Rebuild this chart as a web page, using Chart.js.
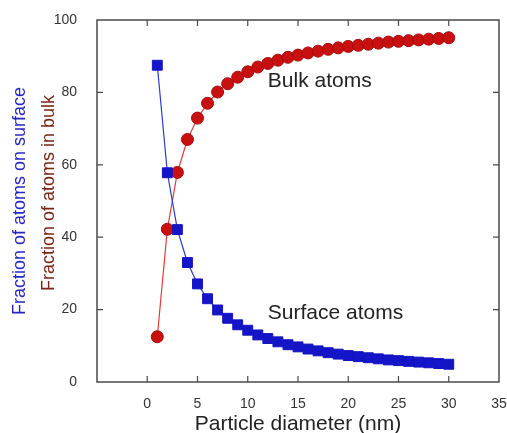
<!DOCTYPE html>
<html>
<head>
<meta charset="utf-8">
<script src="https://cdn.jsdelivr.net/npm/chart.js@4/dist/chart.umd.min.js"></script>
<style>
  html, body { margin: 0; padding: 0; background: #fff; }
  #wrap { width: 507px; height: 433px; }
</style>
</head>
<body>
<div id="wrap"><canvas id="atoms-chart" width="507" height="433"></canvas></div>
<script>
// particle diameter in nm
var diameters = [1, 2, 3, 4, 5, 6, 7, 8, 9, 10, 11, 12, 13, 14, 15,
                 16, 17, 18, 19, 20, 21, 22, 23, 24, 25, 26, 27, 28, 29, 30];
// percent of atoms sitting on the surface
var surfaceFraction = [87.5, 57.8, 42.1, 33.0, 27.1, 23.0, 19.9, 17.6, 15.8, 14.3,
                       13.0, 12.0, 11.1, 10.3, 9.7, 9.1, 8.6, 8.1, 7.7, 7.3,
                       7.0, 6.7, 6.4, 6.1, 5.9, 5.7, 5.5, 5.3, 5.1, 4.9];
// percent of atoms in the bulk
var bulkFraction = [12.5, 42.2, 57.9, 67.0, 72.9, 77.0, 80.1, 82.4, 84.2, 85.7,
                    87.0, 88.0, 88.9, 89.7, 90.3, 90.9, 91.4, 91.9, 92.3, 92.7,
                    93.0, 93.3, 93.6, 93.9, 94.1, 94.3, 94.5, 94.7, 94.9, 95.1];

var xRange = [-5, 35];
var yRange = [0, 100];
var labels = [
  { text: "Bulk atoms", x: 12, y: 83 },
  { text: "Surface atoms", x: 12, y: 19 }
];

Chart.defaults.font.family = '"Liberation Sans", Arial, Helvetica, sans-serif';

function toPoints(xs, ys) {
  return xs.map(function (x, i) { return { x: x, y: ys[i] }; });
}

// box frame with inward tick marks, plus the titles and curve labels
var framePlugin = {
  id: 'frame',
  beforeDatasetsDraw: function (chart) {
    var ctx = chart.ctx, a = chart.chartArea;
    var xs = chart.scales.x, ys = chart.scales.y;
    ctx.save();
    ctx.strokeStyle = '#4a4a4a';
    ctx.lineWidth = 1.5;
    ctx.strokeRect(a.left, a.top, a.right - a.left, a.bottom - a.top);
    ctx.lineWidth = 1.2;
    ctx.beginPath();
    xs.ticks.forEach(function (t) {
      if (t.value <= xs.min || t.value >= xs.max) return;
      var px = xs.getPixelForValue(t.value);
      ctx.moveTo(px, a.bottom); ctx.lineTo(px, a.bottom - 6);
      ctx.moveTo(px, a.top); ctx.lineTo(px, a.top + 6);
    });
    ys.ticks.forEach(function (t) {
      if (t.value <= ys.min || t.value >= ys.max) return;
      var py = ys.getPixelForValue(t.value);
      ctx.moveTo(a.left, py); ctx.lineTo(a.left + 6, py);
      ctx.moveTo(a.right, py); ctx.lineTo(a.right - 6, py);
    });
    ctx.stroke();
    ctx.restore();
  },
  afterDraw: function (chart) {
    var ctx = chart.ctx, a = chart.chartArea;
    var xs = chart.scales.x, ys = chart.scales.y;
    var midY = (a.top + a.bottom) / 2;
    ctx.save();
    ctx.textBaseline = 'middle';

    ctx.fillStyle = '#222';
    ctx.font = '21px "Liberation Sans", Arial, sans-serif';
    ctx.textAlign = 'left';
    labels.forEach(function (l) {
      ctx.fillText(l.text, xs.getPixelForValue(l.x), ys.getPixelForValue(l.y));
    });

    ctx.textAlign = 'center';
    ctx.fillStyle = '#222';
    ctx.fillText('Particle diameter (nm)', (a.left + a.right) / 2, 424);

    ctx.font = '18px "Liberation Sans", Arial, sans-serif';
    ctx.translate(20, midY);
    ctx.rotate(-Math.PI / 2);
    ctx.fillStyle = '#2626c4';
    ctx.fillText('Fraction of atoms on surface', 0, 0);
    ctx.fillStyle = '#7a2414';
    ctx.fillText('Fraction of atoms in bulk', 8, 29);
    ctx.restore();
  }
};

new Chart(document.getElementById('atoms-chart'), {
  type: 'line',
  data: {
    datasets: [{
      label: 'Surface atoms',
      data: toPoints(diameters, surfaceFraction),
      borderColor: '#2a3cd0',
      borderWidth: 1.2,
      backgroundColor: '#1414c8',
      pointBorderColor: '#1414c0',
      pointStyle: 'rect',
      pointRadius: 7,
      pointBorderWidth: 1,
      tension: 0
    }, {
      label: 'Bulk atoms',
      data: toPoints(diameters, bulkFraction),
      borderColor: '#e03a3a',
      borderWidth: 1.2,
      backgroundColor: '#c81010',
      pointBorderColor: '#a80a0a',
      pointStyle: 'circle',
      pointRadius: 6,
      pointBorderWidth: 1,
      tension: 0
    }]
  },
  options: {
    responsive: false,
    animation: false,
    layout: { padding: { top: 20, right: 7, bottom: 0, left: 0 } },
    plugins: {
      legend: { display: false },
      tooltip: { enabled: false }
    },
    scales: {
      x: {
        type: 'linear',
        min: xRange[0],
        max: xRange[1],
        grid: { display: false },
        border: { display: false },
        ticks: {
          stepSize: 5,
          autoSkip: false,
          maxRotation: 0,
          padding: 6,
          color: '#333',
          font: { size: 14 },
          callback: function (v) { return v < 0 ? '' : v; }
        },
        afterFit: function (s) {
          s.height = 51;
          s.paddingLeft = 0;
          s.paddingRight = 0;
        }
      },
      y: {
        min: yRange[0],
        max: yRange[1],
        grid: { display: false },
        border: { display: false },
        ticks: {
          stepSize: 20,
          padding: 12,
          color: '#333',
          font: { size: 14 }
        },
        afterFit: function (s) {
          s.width = 97;
          s.paddingTop = 0;
          s.paddingBottom = 0;
        }
      }
    }
  },
  plugins: [framePlugin]
});
</script>
</body>
</html>
